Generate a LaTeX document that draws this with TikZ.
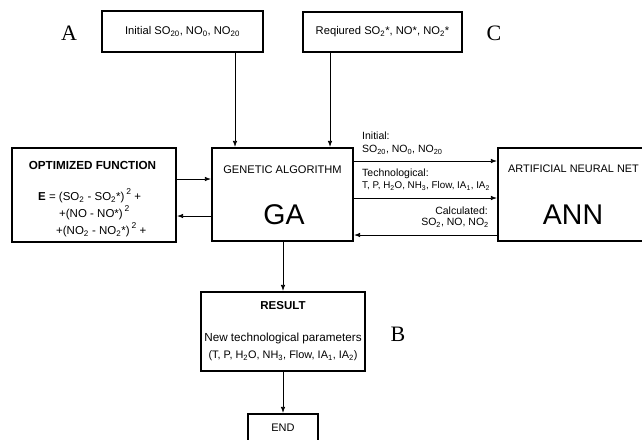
\documentclass[tikz,border=0pt]{standalone}
\usepackage{fontspec}
\setmainfont{Liberation Sans}
\newfontfamily\letterfont{Liberation Serif}
\usetikzlibrary{arrows.meta}
\newcommand{\sub}[1]{\textsubscript{#1}}
\newcommand{\sups}[1]{\,\raisebox{1.0ex}{\fontsize{8.5}{9}\selectfont #1}}
\begin{document}
\begin{tikzpicture}[x=1pt,y=-1pt,
  box/.style={draw, line width=2.2pt, inner sep=0pt},
  topbox/.style={draw, line width=1.8pt, inner sep=0pt, font=\fontsize{11.2}{12}\selectfont},
  txt/.style={inner sep=0pt, font=\fontsize{11}{12}\selectfont},
  lbl/.style={inner sep=0pt, font=\fontsize{10.5}{11}\selectfont},
  big/.style={inner sep=0pt, font=\fontsize{28.5}{30}\selectfont},
  letter/.style={inner sep=0pt, font=\letterfont\fontsize{22}{24}\selectfont},
  arr/.style={-{Latex[length=6pt,width=4.5pt]}, line width=0.8pt}]
\useasboundingbox (0,0) rectangle (642,439);

% top input boxes
\node[topbox, minimum width=161pt, minimum height=41pt] (inA) at (182.5,31.5)
  {Initial SO\sub{20}, NO\sub{0}, NO\sub{20}};
\node[topbox, minimum width=159pt, minimum height=40pt] (inC) at (382.5,32)
  {Reqiured SO\sub{2}*, NO*, NO\sub{2}*};
\node[letter] (labA) at (69,33) {A};
\node[letter] (labC) at (494,33) {C};

% main boxes
\node[box, minimum width=164pt, minimum height=94pt] (opt) at (94,195) {};
\node[box, minimum width=141pt, minimum height=93pt] (ga) at (282.5,194.5) {};
\node[box, minimum width=162pt, minimum height=93pt] (ann) at (579,194.5) {};
\node[box, minimum width=164pt, minimum height=79pt] (res) at (283,331.5) {};
\node[box, minimum width=70pt, minimum height=36pt] (fin) at (283,432) {};

% texts in boxes
\node[txt, font=\fontsize{11.7}{12}\selectfont\bfseries] (optT) at (92.5,165) {OPTIMIZED FUNCTION};
\node[txt, anchor=west, font=\fontsize{11.5}{12}\selectfont] (f1) at (38,196)
  {\textbf{E} = (SO\sub{2} - SO\sub{2}*)\sups{2} +};
\node[txt, anchor=west, font=\fontsize{11.5}{12}\selectfont] (f2) at (59,213) {+(NO - NO*)\sups{2}};
\node[txt, anchor=west, font=\fontsize{11.5}{12}\selectfont] (f3) at (56,230)
  {+(NO\sub{2} - NO\sub{2}*)\sups{2} +};

\node[txt, font=\fontsize{11.1}{12}\selectfont] (gaT) at (282.5,170) {GENETIC ALGORITHM};
\node[big] (gaB) at (284,215) {GA};

\node[txt, anchor=west, font=\fontsize{10.9}{12}\selectfont] (annT) at (508,169) {ARTIFICIAL NEURAL NET};
\node[big] (annB) at (573,215) {ANN};

\node[txt, font=\fontsize{11.5}{12}\selectfont\bfseries] (resT) at (283,306) {RESULT};
\node[txt, font=\fontsize{11.7}{12}\selectfont] (res1) at (283,338) {New technological parameters};
\node[txt, font=\fontsize{10.9}{12}\selectfont] (res2) at (283,356)
  {(T, P, H\sub{2}O, NH\sub{3}, Flow, IA\sub{1}, IA\sub{2})};
\node[letter] (labB) at (398,334) {B};

\node[txt] (finT) at (283,428) {END};

% connectors
\coordinate (xa) at (235,0);
\coordinate (xc) at (330,0);
\draw[arr] (inA.south -| xa) -- (ga.north -| xa);
\draw[arr] (inC.south -| xc) -- (ga.north -| xc);

\coordinate (ya) at (0,179);
\coordinate (yb) at (0,216);
\draw[arr] (opt.east |- ya) -- (ga.west |- ya);
\draw[arr] (ga.west |- yb) -- (opt.east |- yb);

\coordinate (y1) at (0,161);
\coordinate (y2) at (0,198);
\coordinate (y3) at (0,235);
\draw[arr] (ga.east |- y1) -- (ann.west |- y1);
\draw[arr] (ga.east |- y2) -- (ann.west |- y2);
\draw[arr] (ann.west |- y3) -- (ga.east |- y3);

\node[lbl, anchor=west] (l1a) at (362,136) {Initial:};
\node[lbl, anchor=west] (l1b) at (362,150) {SO\sub{20}, NO\sub{0}, NO\sub{20}};
\node[lbl, anchor=west] (l2a) at (362,174) {Technological:};
\node[lbl, anchor=west, font=\fontsize{9.8}{11}\selectfont] (l2b) at (362,186) {T, P, H\sub{2}O, NH\sub{3}, Flow, IA\sub{1}, IA\sub{2}};
\node[lbl, anchor=east] (l3a) at (488,211) {Calculated:};
\node[lbl, anchor=east] (l3b) at (489,223) {SO\sub{2}, NO, NO\sub{2}};

\coordinate (xm) at (283,0);
\draw[arr] (ga.south -| xm) -- (res.north -| xm);
\draw[arr] (res.south -| xm) -- (fin.north -| xm);
\end{tikzpicture}
\end{document}
